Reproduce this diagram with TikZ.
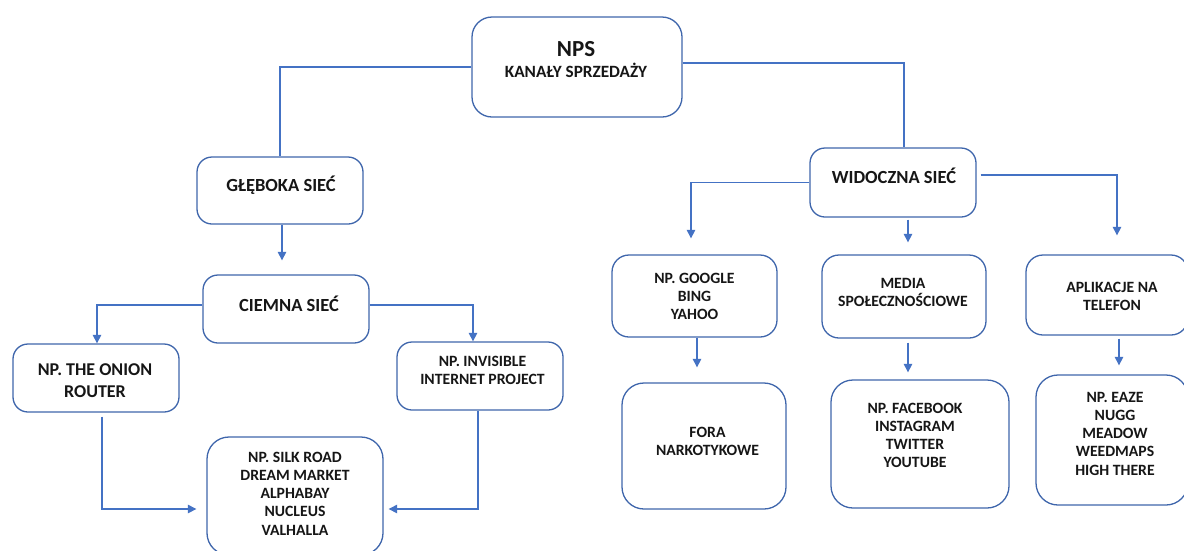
\documentclass[tikz,border=0pt]{standalone}
\usepackage{fontspec}
\newfontfamily\carl{Carlito}
\usetikzlibrary{arrows.meta,calc}
\definecolor{boxblue}{HTML}{3F66AC}
\definecolor{lineblue}{HTML}{4472C4}
\definecolor{txt}{HTML}{161616}
\newcommand\topst{\rule{0pt}{14pt}}
\tikzset{
  box/.style={draw=boxblue, line width=1.3pt, inner sep=0pt, fill=white},
  conn/.style={draw=lineblue, line width=1.1pt},
  arr/.style={conn, -{Triangle[width=8.5pt,length=8.5pt]}},
  tl/.style={inner sep=0pt, anchor=base, text=txt},
  tm/.style={inner sep=0pt, anchor=north, align=center, text=txt},
  fbig/.style={font=\carl\bfseries\fontsize{18.5}{22}\selectfont},
  fsm/.style={font=\carl\bfseries\fontsize{15.7}{18.2}\selectfont},
}
\begin{document}
\begin{tikzpicture}[x=1pt,y=-1pt]
\useasboundingbox (0,0) rectangle (1184,550);
\clip (0,0) rectangle (1184,550);
\fill[white] (0,0) rectangle (1184,550);
% boxes
\node[box, rounded corners=20pt, minimum width=210pt, minimum height=100pt] (nps) at (577,67) {};
\node[box, rounded corners=15pt, minimum width=166pt, minimum height=67pt] (gleb) at (280,190.5) {};
\node[box, rounded corners=15pt, minimum width=166pt, minimum height=68pt] (ciem) at (286,309) {};
\node[box, rounded corners=15pt, minimum width=166pt, minimum height=68pt] (onion) at (96,378) {};
\node[box, rounded corners=15pt, minimum width=166pt, minimum height=68pt] (inv) at (480,376) {};
\node[box, rounded corners=22pt, minimum width=176pt, minimum height=118pt] (silk) at (295,496) {};
\node[box, rounded corners=15pt, minimum width=166pt, minimum height=69pt] (wid) at (893,182.5) {};
\node[box, rounded corners=17pt, minimum width=165pt, minimum height=82pt] (goog) at (694.5,296) {};
\node[box, rounded corners=17pt, minimum width=164pt, minimum height=83pt] (media) at (904,296.5) {};
\node[box, rounded corners=17pt, minimum width=162pt, minimum height=80pt] (apl) at (1107,295) {};
\node[box, rounded corners=22pt, minimum width=164pt, minimum height=126pt] (fora) at (704,446) {};
\node[box, rounded corners=22pt, minimum width=178pt, minimum height=128pt] (fb) at (920,444) {};
\node[box, rounded corners=22pt, minimum width=152pt, minimum height=130pt] (eaze) at (1112,440) {};
% texts
\node[tl, font=\carl\bfseries\fontsize{23}{27}\selectfont] (npsT) at (576,56) {NPS};
\node[tl, font=\carl\bfseries\fontsize{17.2}{20}\selectfont] (npsS) at (576,77) {KANAŁY SPRZEDAŻY};
\node[tl, fbig] (glebT) at (281,191) {GŁĘBOKA SIEĆ};
\node[tl, fbig] (ciemT) at (289,311) {CIEMNA SIEĆ};
\node[tl, fbig] (widT) at (894,183) {WIDOCZNA SIEĆ};
\node[tm, font=\carl\bfseries\fontsize{18}{22}\selectfont] (onionT) at (95,361) {\topst NP. THE ONION\\ROUTER};
\node[tm, fsm] (invT) at (482.5,352) {\topst NP. INVISIBLE\\INTERNET PROJECT};
\node[tm, fsm] (silkT) at (295,448) {\topst NP. SILK ROAD\\DREAM MARKET\\ALPHABAY\\NUCLEUS\\VALHALLA};
\node[tm, fsm] (googT) at (694.5,269) {\topst NP. GOOGLE\\BING\\YAHOO};
\node[tm, fsm] (mediaT) at (903,274) {\topst MEDIA\\SPOŁECZNOŚCIOWE};
\node[tm, fsm] (aplT) at (1112,278) {\topst APLIKACJE NA\\TELEFON};
\node[tm, fsm] (foraT) at (707.5,423) {\topst FORA\\NARKOTYKOWE};
\node[tm, fsm] (fbT) at (915,399) {\topst NP. FACEBOOK\\INSTAGRAM\\TWITTER\\YOUTUBE};
\node[tm, fsm] (eazeT) at (1115,388) {\topst NP. EAZE\\NUGG\\MEADOW\\WEEDMAPS\\HIGH THERE};
% connectors
\draw[conn] (nps.west) -| (gleb.north);
\draw[conn] ([yshift=4pt]nps.east) -| ([xshift=11pt]wid.north);
\draw[arr] ([xshift=2pt]gleb.south) -- ([xshift=-4pt,yshift=14pt]ciem.north);
\draw[arr] ([yshift=4pt]ciem.west) -| ([xshift=1pt]onion.north);
\draw[arr] ([yshift=4pt]ciem.east) -| ([xshift=-7pt]inv.north);
\draw[arr] ([xshift=6pt,yshift=-4pt]onion.south) |- ([xshift=-10pt,yshift=-13pt]silk.west);
\draw[arr] ([xshift=-2pt]inv.south) |- ([xshift=5pt,yshift=-13pt]silk.east);
\draw[arr] (wid.west) -| ([xshift=-3.5pt,yshift=16pt]goog.north);
\draw[arr] ([xshift=15pt,yshift=-2pt]wid.south) -- ([xshift=4pt,yshift=12pt]media.north);
\draw[arr] ([xshift=4pt,yshift=7.5pt]wid.east) -| ([xshift=10pt,yshift=19pt]apl.north);
\draw[arr] ([xshift=2.5pt]goog.south) -- ([xshift=-7pt,yshift=15pt]fora.north);
\draw[arr] ([xshift=4pt,yshift=-4pt]media.south) -- ([xshift=-12pt,yshift=7pt]fb.north);
\draw[arr] ([xshift=12pt,yshift=-3pt]apl.south) -- ([xshift=7pt,yshift=9pt]eaze.north);
\end{tikzpicture}
\end{document}
